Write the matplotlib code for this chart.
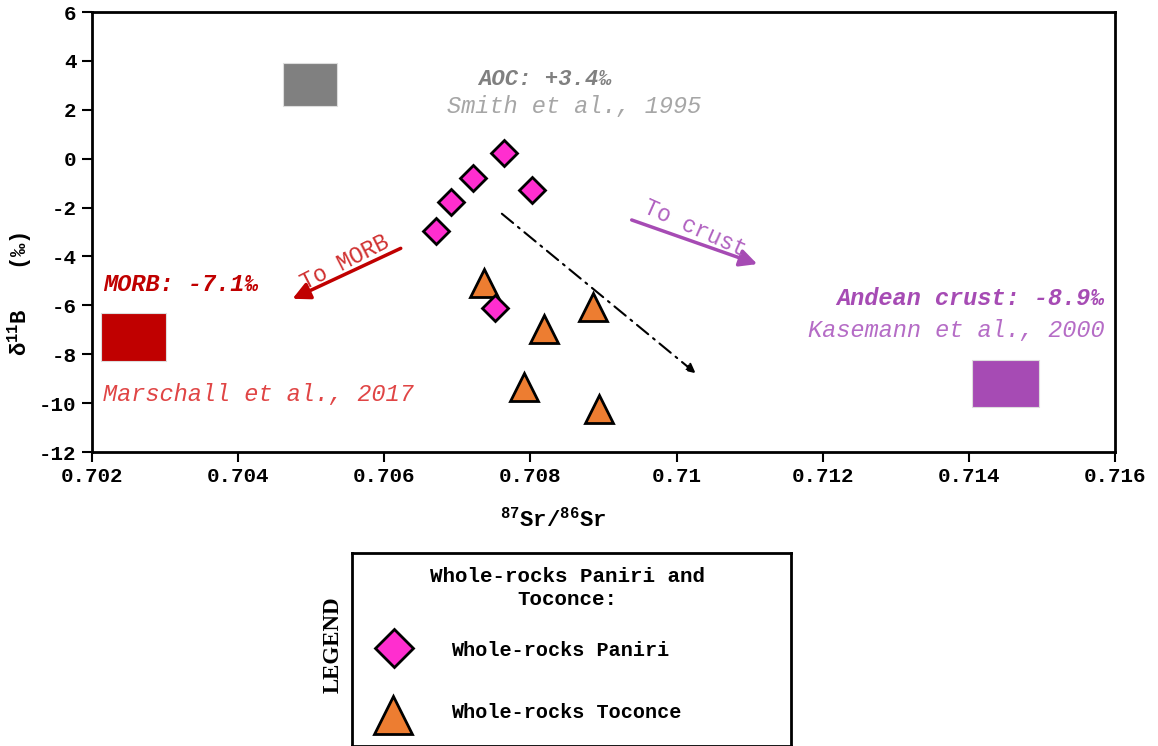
import matplotlib

matplotlib.use("Agg")
import matplotlib.pyplot as plt
from matplotlib.patches import Rectangle

MONO = ["Liberation Mono", "DejaVu Sans Mono"]

plt.rcParams["font.family"] = MONO
plt.rcParams["font.weight"] = "bold"
plt.rcParams["mathtext.fontset"] = "custom"
plt.rcParams["mathtext.rm"] = "Liberation Mono:bold"
plt.rcParams["mathtext.bf"] = "Liberation Mono:bold"

# Whole-rock isotope data
paniri_sr = [0.70764, 0.70721, 0.70691, 0.70671, 0.70802, 0.70752]
paniri_b = [0.23, -0.79, -1.77, -2.96, -1.28, -6.11]
toconce_sr = [0.70737, 0.70886, 0.70819, 0.70791, 0.70894]
toconce_b = [-5.10, -6.07, -6.96, -9.34, -10.23]

# Reservoir fields: (sr_min, sr_max, b_min, b_max)
aoc_box = (0.70461, 0.70535, 2.15, 3.93)
morb_box = (0.70212, 0.70301, -8.27, -6.33)
crust_box = (0.71404, 0.71496, -10.17, -8.24)

x_ticks = [0.702, 0.704, 0.706, 0.708, 0.710, 0.712, 0.714, 0.716]
x_tick_labels = ["0.702", "0.704", "0.706", "0.708", "0.71", "0.712", "0.714", "0.716"]
y_ticks = [6, 4, 2, 0, -2, -4, -6, -8, -10, -12]
y_tick_labels = ["6", "4", "2", "0", "-2", "-4", "-6", "-8", "-10", "-12"]

PANIRI_STYLE = dict(marker="D", color="none", markerfacecolor="#FF2ECF",
                    markeredgecolor="black", markeredgewidth=2)
TOCONCE_STYLE = dict(marker="^", color="none", markerfacecolor="#ED7D31",
                     markeredgecolor="black", markeredgewidth=2)

fig = plt.figure(figsize=(11.58, 7.46), dpi=100)
ax = fig.add_axes([0.0794, 0.3941, 0.8835, 0.5898])

for (x0, x1, y0, y1), color in [(aoc_box, "#808080"), (morb_box, "#C00000"), (crust_box, "#A64BB4")]:
    ax.add_patch(Rectangle((x0, y0), x1 - x0, y1 - y0, facecolor=color,
                           edgecolor="#dddddd", linewidth=0.8, zorder=2))

# trend arrow through the data
ax.annotate("", xy=(0.71029, -8.85), xytext=(0.70758, -2.18),
            arrowprops=dict(arrowstyle="-|>", color="black", lw=1.5,
                            linestyle=(0, (7, 3, 1, 3)), mutation_scale=14),
            zorder=3)

ax.annotate("", xy=(0.70471, -5.78), xytext=(0.70626, -3.62),
            arrowprops=dict(arrowstyle="-|>", color="#C00000", lw=2.5,
                            mutation_scale=26), zorder=3)
ax.annotate("", xy=(0.71114, -4.35), xytext=(0.70935, -2.47),
            arrowprops=dict(arrowstyle="-|>", color="#A64BB4", lw=2.5,
                            mutation_scale=26), zorder=3)

ax.plot(toconce_sr, toconce_b, markersize=19.5, zorder=4, **TOCONCE_STYLE)
ax.plot(paniri_sr, paniri_b, markersize=13.5, zorder=5, **PANIRI_STYLE)

ax.text(0.70728, 3.22, "AOC: +3.4‰", color="#808080", fontsize=16,
        fontweight="bold", fontstyle="italic", ha="left", va="center")
ax.text(0.70686, 2.15, "Smith et al., 1995", color="#A6A6A6", fontsize=17,
        fontweight="normal", fontstyle="italic", ha="left", va="center")
ax.text(0.70215, -5.13, "MORB: -7.1‰", color="#C00000", fontsize=17,
        fontweight="bold", fontstyle="italic", ha="left", va="center")
ax.text(0.70215, -9.63, "Marschall et al., 2017", color="#E04545", fontsize=17,
        fontweight="normal", fontstyle="italic", ha="left", va="center")
ax.text(0.71586, -5.70, "Andean crust: -8.9‰", color="#A64BB4", fontsize=17,
        fontweight="bold", fontstyle="italic", ha="right", va="center")
ax.text(0.71586, -7.01, "Kasemann et al., 2000", color="#B56CC6", fontsize=17,
        fontweight="normal", fontstyle="italic", ha="right", va="center")
ax.text(0.70546, -4.23, "To MORB", color="#D03030", fontsize=16.5,
        fontweight="normal", rotation=27, ha="center", va="center",
        rotation_mode="anchor")
ax.text(0.71025, -2.84, "To crust", color="#B060C0", fontsize=16.5,
        fontweight="normal", rotation=-24, ha="center", va="center",
        rotation_mode="anchor")

ax.set_xlim(0.702, 0.716)
ax.set_ylim(-12, 6)
ax.set_xticks(x_ticks)
ax.set_xticklabels(x_tick_labels)
ax.set_yticks(y_ticks)
ax.set_yticklabels(y_tick_labels)
ax.tick_params(direction="out", length=7, width=1.5, labelsize=15, pad=4)
for label in ax.get_xticklabels() + ax.get_yticklabels():
    label.set_fontweight("bold")
for spine in ax.spines.values():
    spine.set_linewidth(2)

fig.text(20 / 1158, 1 - 294 / 746, r"$\mathregular{\delta^{11}B}$   (‰)", rotation=90,
         fontsize=16, fontweight="bold", ha="center", va="center")
fig.text(553 / 1158, 1 - 520 / 746, r"$\mathregular{^{87}Sr/^{86}Sr}$",
         fontsize=16, fontweight="bold", ha="center", va="center")

# legend panel
leg = fig.add_axes([352 / 1158, 0.0, 439 / 1158, 193 / 746])
leg.set_xlim(0, 1)
leg.set_ylim(0, 1)
leg.set_xticks([])
leg.set_yticks([])
for spine in leg.spines.values():
    spine.set_linewidth(2)
leg.text(0.49, 0.818, "Whole-rocks Paniri and\nToconce:", fontsize=15,
         fontweight="bold", ha="center", va="center", linespacing=1.3)
leg.plot([0.0957], [0.508], markersize=19, **PANIRI_STYLE)
leg.plot([0.0934], [0.161], markersize=27, **TOCONCE_STYLE)
leg.text(0.2255, 0.497, "Whole-rocks Paniri", fontsize=14.5, fontweight="bold",
         ha="left", va="center")
leg.text(0.2255, 0.176, "Whole-rocks Toconce", fontsize=14.5, fontweight="bold",
         ha="left", va="center")
fig.text(333 / 1158, 1 - 645 / 746, "LEGEND", rotation=90, fontsize=16.5,
         family=["Liberation Serif", "DejaVu Serif"], fontweight="bold",
         ha="center", va="center")

fig.savefig("out.png", dpi=100)
plt.close(fig)
